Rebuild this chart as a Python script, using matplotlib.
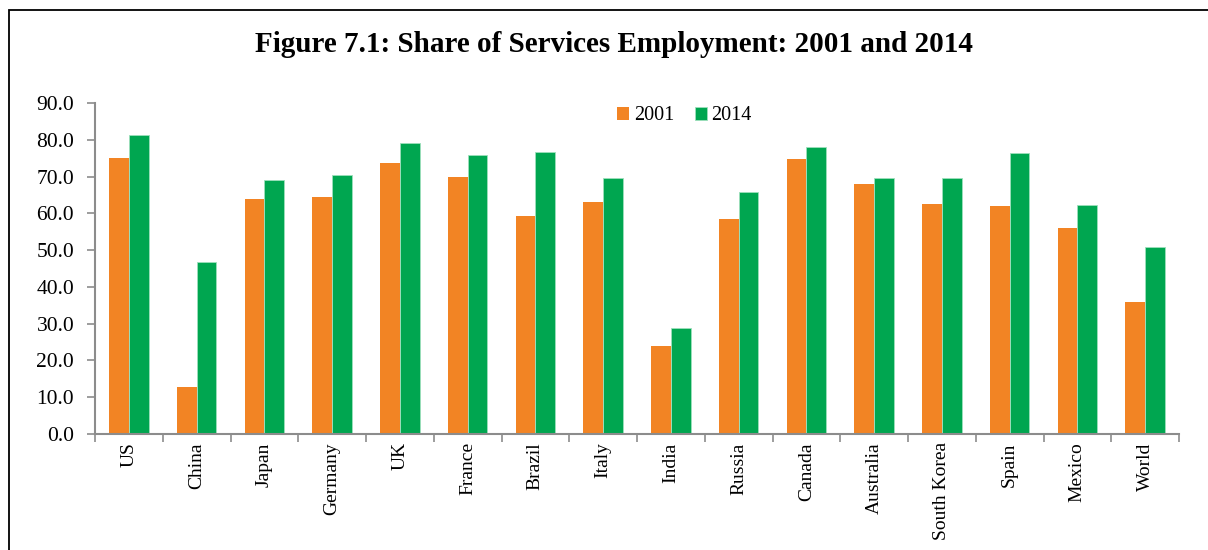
import matplotlib
matplotlib.use("Agg")
import matplotlib.pyplot as plt
import numpy as np
from matplotlib.patches import Rectangle

# data
countries = ["US", "China", "Japan", "Germany", "UK", "France", "Brazil", "Italy",
             "India", "Russia", "Canada", "Australia", "South Korea", "Spain",
             "Mexico", "World"]
share_2001 = [75.1, 12.9, 64.0, 64.5, 73.8, 70.0, 59.3, 63.2,
              24.0, 58.5, 74.9, 68.1, 62.6, 62.1, 56.1, 35.9]
share_2014 = [81.2, 46.9, 69.1, 70.4, 79.1, 75.8, 76.7, 69.5,
              28.7, 65.8, 78.1, 69.5, 69.5, 76.3, 62.3, 50.9]
years = ["2001", "2014"]

orange = "#F28424"
green = "#00A650"
grey = "#8C8C8C"

plt.rcParams["font.family"] = ["Liberation Serif", "DejaVu Serif"]

W, H = 1208, 550
fig = plt.figure(figsize=(W / 100, H / 100), dpi=100)

# frame round the chart (bottom and right run off the picture)
fig.patches.append(Rectangle((9 / W, -0.05), 1.2, 1 - 10 / H + 0.05,
                             transform=fig.transFigure, fill=False,
                             edgecolor="black", linewidth=1.3))

ax = fig.add_axes([95 / W, 1 - 434 / H, (1179 - 95) / W, (434 - 103) / H])

x = np.arange(len(countries))
bw = 0.29
ax.bar(x - bw / 2, share_2001, bw, color=orange, label=years[0])
ax.bar(x + bw / 2, share_2014, bw, color=green, label=years[1],
       edgecolor="#9EE0BC", linewidth=0.6)

ax.set_xlim(-0.5, len(countries) - 0.5)
ax.set_ylim(0, 90)
ax.set_yticks(np.arange(0, 91, 10))
ax.set_yticklabels([f"{v:.1f}" for v in np.arange(0, 91, 10)], fontsize=15.5)

# category labels centred, ticks at the boundaries
ax.set_xticks(np.arange(-0.5, len(countries), 1.0))
ax.set_xticklabels([])
ax.set_xticks(x, minor=True)
ax.set_xticklabels(countries, minor=True, rotation=90, fontsize=14)
ax.tick_params(axis="x", which="minor", length=0, pad=6)
ax.tick_params(axis="x", which="major", length=6, width=1.2, color=grey)
ax.tick_params(axis="y", length=6, width=1.2, color=grey, pad=9)

for s in ["top", "right"]:
    ax.spines[s].set_visible(False)
for s in ["left", "bottom"]:
    ax.spines[s].set_color(grey)
    ax.spines[s].set_linewidth(1.5)

ax.legend(loc="center left", bbox_to_anchor=((617 - 95) / 1084, (434 - 116) / 331),
          ncol=2, frameon=False, fontsize=14.5, borderpad=0, borderaxespad=0,
          handlelength=0.6, handleheight=0.6, handletextpad=0.25,
          columnspacing=1.0)

fig.text(614 / W, 1 - 45 / H, "Figure 7.1: Share of Services Employment: 2001 and 2014",
         ha="center", va="center", fontsize=21, fontweight="bold")

fig.savefig("out.png", dpi=100)
